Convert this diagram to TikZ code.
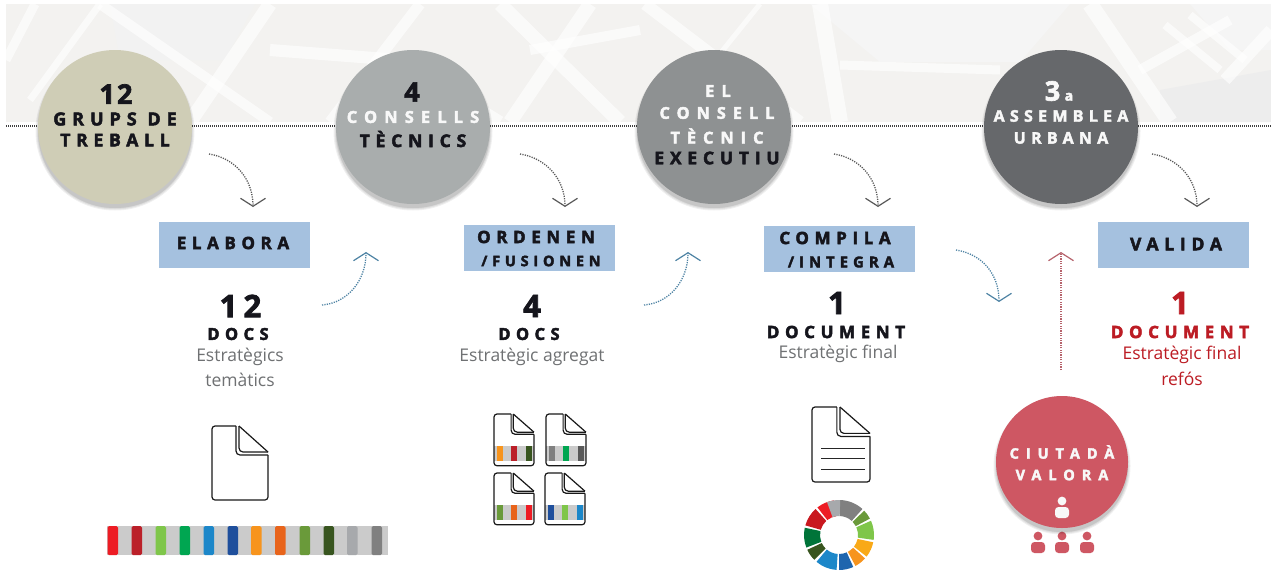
\documentclass[tikz,border=0pt]{standalone}
\usepackage{fontspec}
\setmainfont{Open Sans}
\usetikzlibrary{arrows.meta}
\definecolor{inkk}{HTML}{15151C}
\definecolor{soft}{HTML}{F8F8F8}
\definecolor{cA}{HTML}{CFCDB6}
\definecolor{cB}{HTML}{A9ADAD}
\definecolor{cC}{HTML}{8E9192}
\definecolor{cD}{HTML}{66686B}
\definecolor{boxb}{HTML}{A5C1DF}
\definecolor{redc}{HTML}{CE5763}
\definecolor{redt}{HTML}{BC1C24}
\definecolor{greyt}{HTML}{6F7173}
\definecolor{mapg}{HTML}{F3F2F0}
\definecolor{bandg}{HTML}{CBCBCB}
\definecolor{s1}{HTML}{ED1C24}
\definecolor{s2}{HTML}{BB2029}
\definecolor{s3}{HTML}{7FC64A}
\definecolor{s4}{HTML}{00A651}
\definecolor{s5}{HTML}{1C87C9}
\definecolor{s6}{HTML}{1F4F9C}
\definecolor{s7}{HTML}{F7941D}
\definecolor{s8}{HTML}{E8641B}
\definecolor{s9}{HTML}{6A9A3A}
\definecolor{s10}{HTML}{38551F}
\definecolor{s11}{HTML}{A7A9AC}
\definecolor{s12}{HTML}{808080}
\newcommand\hv[3]{\fontsize{#1}{#1}\selectfont\bfseries\addfontfeature{LetterSpace=#2,FakeBold=2.6}#3}
\newcommand\docicon[4]{%
  \begin{scope}[shift={(#1,#2)},xscale=#3,yscale=#4,line width=1.2pt,black!90]
    \draw[rounded corners=3pt] (24,0) -- (0,0) -- (0,74) -- (56,74) -- (56,29);
    \draw[rounded corners=4pt] (24,0) -- (24,29) -- (56,29);
    \draw[rounded corners=4pt] (27,0) -- (27,26) -- (56,26);
    \draw (27,0) -- (56,26);
  \end{scope}}
\newcommand\minidoc[5]{%
  \begin{scope}[shift={(#1,#2)}]
    \fill[bandg] (0,32) rectangle (40,47);
    \fill[#3] (3,32) rectangle (9,47);
    \fill[#4] (17,32) rectangle (23,47);
    \fill[#5] (32,32) rectangle (38,47);
  \end{scope}%
  \docicon{#1}{#2}{0.714}{0.70}}
\newcommand\person[3]{%
  \begin{scope}[shift={(#1,#2)}]
    \fill[#3] (0,0) circle[radius=4.4pt];
    \fill[#3,rounded corners=3.5pt] (-7,17) -- (-7,6) -- (7,6) -- (7,17) -- cycle;
  \end{scope}}
\newcommand\seg[3]{%
  \fill[#3] (#1:19pt) -- (#1:35pt) arc[start angle=#1,end angle=#2,radius=35pt] -- (#2:19pt) arc[start angle=#2,end angle=#1,radius=19pt] -- cycle;}
\newcommand\softshadow[3]{%
  \foreach \e in {2.5,1.5,.5,0}{\fill[black,opacity=.06] (#1,#2+4) circle[radius=#3pt+\e pt];}}
\tikzset{
  bub/.style={circle,minimum size=154pt,inner sep=0pt},
  actbox/.style={fill=boxb,minimum width=151pt,minimum height=46pt,inner sep=0pt},
  lbl/.style={inner sep=0pt,text=inkk},
  wlbl/.style={inner sep=0pt,text=soft},
  glbl/.style={inner sep=0pt,text=greyt,font=\fontsize{17.5}{17.5}\selectfont},
  rlbl/.style={inner sep=0pt,text=redt,font=\fontsize{17.5}{17.5}\selectfont},
  flow/.style={draw=#1,line width=1.3pt,dash pattern=on 1.2pt off 1.2pt,
    -{Straight Barb[length=8pt,width=25pt,line width=1.2pt,color=#1]}},
  flow/.default=black!65,
  street/.style={white,line width=#1,opacity=.65,line cap=butt}
}
\begin{document}
\begin{tikzpicture}[x=1pt,y=-1pt]
\useasboundingbox (0,0) rectangle (1271,571);
\fill[white] (0,0) rectangle (1271,571);
% map background
\begin{scope}
  \clip (6,4) rectangle (1271,122);
  \fill[mapg] (6,4) rectangle (1271,122);
  \fill[black!5] (110,4) -- (255,4) -- (225,60) -- (120,60) -- cycle;
  \fill[black!4] (810,4) -- (1070,4) -- (1020,62) -- (880,62) -- cycle;
  \fill[black!7] (1160,90) -- (1271,70) -- (1271,122) -- (1160,122) -- cycle;
  \fill[black!4] (1190,4) -- (1271,4) -- (1271,50) -- (1230,50) -- cycle;
  \draw[street=9pt] (35,4) -- (6,60);
  \draw[street=7pt] (100,4) -- (30,100);
  \draw[street=14pt] (270,4) -- (190,122);
  \draw[street=10pt] (100,4) -- (270,122);
  \draw[street=12pt] (270,50) -- (400,60) -- (500,122);
  \draw[street=11pt] (420,4) -- (330,122);
  \draw[street=14pt] (500,4) -- (620,122);
  \draw[street=10pt] (530,50) -- (640,30);
  \draw[street=14pt] (590,4) -- (510,122);
  \draw[street=12pt] (645,4) -- (800,122);
  \draw[street=16pt] (820,4) -- (840,122);
  \draw[street=9pt] (840,65) -- (1000,70);
  \draw[street=16pt] (1090,4) -- (1170,122);
  \draw[street=10pt] (1140,70) -- (1230,20);
  \draw[street=8pt] (1165,25) -- (1220,70);
  \draw[street=8pt] (1190,15) -- (1245,60);
  \draw[street=12pt] (1225,80) -- (1271,30);
  \draw[street=5pt] (760,4) -- (715,60);
\end{scope}
% coordinates of the time line
\coordinate (lineL) at (6,126);
\coordinate (lineR) at (1271,126);
\draw[black!75,line width=2pt,dash pattern=on 1pt off 1pt] (lineL) -- (lineR);
% bubbles
\softshadow{115}{127}{77}
\softshadow{413}{127}{77}
\softshadow{714}{127}{77}
\softshadow{1061}{127}{77}
\node[bub,fill=cA] (grups) at (115,127) {};
\node[bub,fill=cB] (consells) at (413,127) {};
\node[bub,fill=cC] (executiu) at (714,127) {};
\node[bub,fill=cD] (assemblea) at (1061,127) {};
\node[lbl] (t1a) at (116,94) {\hv{27}{8}{12}};
\node[lbl] (t1b) at (115,119) {\hv{18}{33}{GRUPS DE}};
\node[lbl] (t1c) at (115,140) {\hv{17.5}{33}{TREBALL}};
\node[lbl] (t2a) at (412,92) {\hv{27}{0}{4}};
\node[wlbl] (t2b) at (413,117) {\hv{16.5}{43}{CONSELLS}};
\node[lbl] (t2c) at (413,139) {\hv{17.5}{33}{TÈCNICS}};
\node[wlbl] (t3a) at (718,91) {\hv{16.5}{43}{EL}};
\node[wlbl] (t3b) at (717,113) {\hv{16.3}{43}{CONSELL}};
\node[wlbl] (t3c) at (717,136) {\hv{16.3}{43}{TÈCNIC}};
\node[lbl] (t3d) at (717,158) {\hv{17.5}{33}{EXECUTIU}};
\node[wlbl] (t4a) at (1059,91) {\hv{27}{0}{3}\,\hv{14}{0}{a}};
\node[wlbl] (t4b) at (1061,116) {\hv{16}{33}{ASSEMBLEA}};
\node[wlbl] (t4c) at (1061,138) {\hv{16}{33}{URBANA}};
% action boxes
\node[actbox] (elabora) at (234.5,245) {};
\node[actbox] (ordenen) at (539.5,247.5) {};
\node[actbox] (compila) at (839,249) {};
\node[actbox] (valida) at (1173.5,245) {};
\node[lbl] (b1) at (233,243) {\hv{17}{33}{ELABORA}};
\node[lbl] (b2a) at (536,237) {\hv{17}{33}{ORDENEN}};
\node[lbl] (b2b) at (541,261) {\hv{14.5}{33}{/FUSIONEN}};
\node[lbl] (b3a) at (835,238) {\hv{17}{33}{COMPILA}};
\node[lbl] (b3b) at (841,262) {\hv{15}{33}{/INTEGRA}};
\node[lbl] (b4) at (1176,244) {\hv{17.5}{33}{VALIDA}};
% result texts
\node[lbl] (r1a) at (240.5,306) {\hv{31}{20}{12}};
\node[lbl] (r1b) at (238,334) {\hv{16.5}{33}{DOCS}};
\node[glbl] (r1c) at (240,357) {Estratègics};
\node[glbl] (r1d) at (240,380) {temàtics};
\node[lbl] (r2a) at (532,306) {\hv{31}{0}{4}};
\node[lbl] (r2b) at (529,334) {\hv{16.5}{33}{DOCS}};
\node[glbl] (r2c) at (532,357) {Estratègic agregat};
\node[lbl] (r3a) at (837,303) {\hv{31}{0}{1}};
\node[lbl] (r3b) at (836,332) {\hv{17}{33}{DOCUMENT}};
\node[glbl] (r3c) at (838,354) {Estratègic final};
\node[lbl,text=redt] (r4a) at (1180,303) {\hv{31}{0}{1}};
\node[lbl,text=redt] (r4b) at (1180,332) {\hv{17}{33}{DOCUMENT}};
\node[rlbl] (r4c) at (1182,355) {Estratègic final};
\node[rlbl] (r4d) at (1182,379) {refós};
% connectors
\coordinate (a1s) at (209,154); \coordinate (a1e) at (253,207);
\coordinate (a2s) at (520,154); \coordinate (a2e) at (565,207);
\coordinate (a3s) at (834,154); \coordinate (a3e) at (878,207);
\coordinate (a4s) at (1152,154); \coordinate (a4e) at (1197,207);
\coordinate (u1s) at (322,305); \coordinate (u1e) at (366,252);
\coordinate (u2s) at (644,305); \coordinate (u2e) at (688,252);
\coordinate (d1s) at (956,250); \coordinate (d1e) at (999,302);
\coordinate (v1s) at (1061,370); \coordinate (v1e) at (1061,252);
\draw[flow] (a1s) .. controls +(26,4) and +(0,-28) .. (a1e);
\draw[flow] (a2s) .. controls +(26,4) and +(0,-28) .. (a2e);
\draw[flow] (a3s) .. controls +(26,4) and +(0,-28) .. (a3e);
\draw[flow] (a4s) .. controls +(26,4) and +(0,-28) .. (a4e);
\draw[flow=s5!50!gray] (u1s) .. controls +(26,-2) and +(0,28) .. (u1e);
\draw[flow=s5!50!gray] (u2s) .. controls +(26,-2) and +(0,28) .. (u2e);
\draw[flow=s5!50!gray] (d1s) .. controls +(26,4) and +(0,-28) .. (d1e);
\draw[flow=redc!70!gray] (v1s) -- (v1e);
% first doc and stripe bar
\docicon{212}{426}{1}{1}
\fill[bandg] (107,526) rectangle (388,555);
\foreach \c/\x in {s1/108,s2/132,s3/156,s4/180,s5/204,s6/228,s7/251.5,s8/275.5,s9/300,s10/324,s11/347.5,s12/372}{
  \fill[\c,rounded corners=1.5pt] (\x-.5,526) rectangle (\x+10,555);}
% four small docs
\minidoc{494}{414}{s7}{s2}{s10}
\minidoc{546}{414}{s12}{s4}{black!65}
\minidoc{494}{473}{s9}{s8}{s1}
\minidoc{545}{473}{s6}{s3}{s5}
% final doc
\docicon{812}{407}{1.036}{1.014}
\foreach \yy in {448,458,469}{\draw[black!85,line width=1pt] (821,\yy) -- (865,\yy);}
% wheel
\begin{scope}[shift={(839,535)},y=1pt]
  \seg{48}{88}{s12}
  \seg{28}{44}{s9}
  \seg{-8}{24}{s3}
  \seg{-38}{-12}{s7!80!yellow}
  \seg{-62}{-42}{s7}
  \seg{-90}{-66}{s6!60!s5}
  \seg{-130}{-94}{s5}
  \seg{-155}{-135}{s10}
  \seg{-192}{-159}{s4!70!black}
  \seg{-228}{-196}{s1!85!black}
  \seg{-262}{-232}{s1}
  \seg{-272}{-250}{s11}
\end{scope}
% citizens
\person{1038}{536}{redc}
\person{1062}{536}{redc}
\person{1087}{536}{redc}
\softshadow{1062}{462}{66}
\node[circle,minimum size=132pt,inner sep=0pt,fill=redc] (ciutada) at (1062,462) {};
\node[wlbl] (c1) at (1062,452) {\hv{14.5}{48}{CIUTADÀ}};
\node[wlbl] (c2) at (1062,475) {\hv{14.5}{48}{VALORA}};
\person{1062}{501}{soft}
\end{tikzpicture}
\end{document}
